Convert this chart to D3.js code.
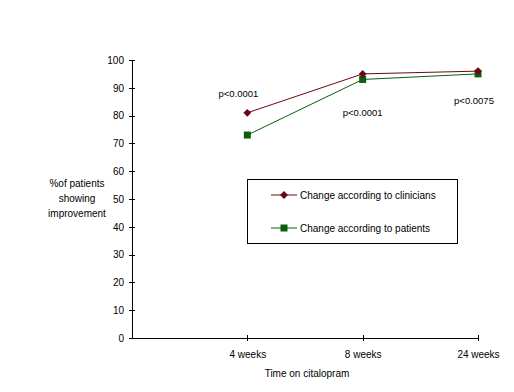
<!DOCTYPE html>
<html>
<head>
<meta charset="utf-8">
<script src="https://cdn.jsdelivr.net/npm/d3@7"></script>
<style>
  body { margin: 0; background: #fff; }
  svg { display: block; font-family: Arial, "Liberation Sans", sans-serif; }
  .axis path, .axis line { stroke: #000; shape-rendering: crispEdges; }
  .axis text { font-size: 10px; fill: #000; }
</style>
</head>
<body>
<div id="chart"></div>
<script>
// categories on the time axis (first slot is the empty origin)
var categories = ["", "4 weeks", "8 weeks", "24 weeks"];
var yTicks = [0, 10, 20, 30, 40, 50, 60, 70, 80, 90, 100];

// % of patients showing improvement
var clinicians = [81, 95, 96];
var patients = [73, 93, 95];
var pLabels = ["p<0.0001", "p<0.0001", "p<0.0075"];
var pLabelValues = [86.6, 80, 84.2];

var seriesNames = ["Change according to clinicians", "Change according to patients"];
var seriesColors = ["#6b0712", "#0b5e0b"];

var width = 514, height = 392;
var margin = { top: 60, left: 132, right: 36, bottom: 54 };

var svg = d3.select("#chart").append("svg")
  .attr("width", width)
  .attr("height", height);

var x = d3.scalePoint()
  .domain(categories)
  .range([margin.left, width - margin.right]);

var y = d3.scaleLinear()
  .domain([0, 100])
  .range([height - margin.bottom, margin.top]);

// y axis
var yAxis = svg.append("g")
  .attr("class", "axis")
  .attr("transform", "translate(" + margin.left + ",0)")
  .call(d3.axisLeft(y).tickValues(yTicks).tickSize(3).tickSizeOuter(0));
yAxis.selectAll(".tick line").attr("x1", -3).attr("x2", 3);
yAxis.selectAll(".tick text").attr("x", -8);

// x axis
var xAxis = svg.append("g")
  .attr("class", "axis")
  .attr("transform", "translate(0," + y(0) + ")")
  .call(d3.axisBottom(x).tickSize(3).tickSizeOuter(0));
xAxis.selectAll(".tick").filter(function (d) { return d === ""; }).remove();
xAxis.selectAll(".tick line").attr("y1", -3).attr("y2", 3);
xAxis.selectAll(".tick text").attr("y", 13);

// axis titles
var yTitle = svg.append("text")
  .attr("text-anchor", "middle")
  .style("font-size", "10px");
["%of patients", "showing", "improvement"].forEach(function (t, i) {
  yTitle.append("tspan").attr("x", 77).attr("y", 187 + i * 15).text(t);
});

svg.append("text")
  .attr("x", 307)
  .attr("y", 377)
  .attr("text-anchor", "middle")
  .style("font-size", "10px")
  .text("Time on citalopram");

var weeks = categories.slice(1);
var line = d3.line()
  .x(function (d, i) { return x(weeks[i]); })
  .y(function (d) { return y(d); });

function drawMarker(g, type, color, size) {
  if (type === "diamond") {
    g.append("path")
      .attr("d", d3.symbol().type(d3.symbolDiamond2).size(size * 2.2)())
      .attr("fill", color);
  } else {
    g.append("rect")
      .attr("x", -3.5).attr("y", -3.5)
      .attr("width", 7).attr("height", 7)
      .attr("fill", color);
  }
}

[patients, clinicians].forEach(function (vals) {
  var idx = vals === clinicians ? 0 : 1;
  svg.append("path")
    .datum(vals)
    .attr("d", line)
    .attr("fill", "none")
    .attr("stroke", seriesColors[idx])
    .attr("stroke-width", 1);
  vals.forEach(function (v, i) {
    var g = svg.append("g")
      .attr("transform", "translate(" + x(weeks[i]) + "," + y(v) + ")");
    drawMarker(g, idx === 0 ? "diamond" : "square", seriesColors[idx], 18);
  });
});

// p-value labels (offsets from the data column, as in the original)
var pOffsets = [-9, 0, -4];
pLabels.forEach(function (t, i) {
  svg.append("text")
    .attr("x", x(weeks[i]) + pOffsets[i])
    .attr("y", y(pLabelValues[i]))
    .attr("text-anchor", "middle")
    .style("font-size", "9.5px")
    .text(t);
});

// legend
var legend = svg.append("g");
legend.append("rect")
  .attr("x", 247.5).attr("y", 179.5)
  .attr("width", 210).attr("height", 64)
  .attr("fill", "#fff")
  .attr("stroke", "#000")
  .attr("stroke-width", 1);

seriesNames.forEach(function (name, i) {
  var ly = 195 + i * 33;
  legend.append("line")
    .attr("x1", 271).attr("x2", 297)
    .attr("y1", ly).attr("y2", ly)
    .attr("stroke", seriesColors[i]);
  var g = legend.append("g").attr("transform", "translate(284," + ly + ")");
  drawMarker(g, i === 0 ? "diamond" : "square", seriesColors[i], 18);
  legend.append("text")
    .attr("x", 300)
    .attr("y", ly + 3.5)
    .style("font-size", "10px")
    .text(name);
});
</script>
</body>
</html>
